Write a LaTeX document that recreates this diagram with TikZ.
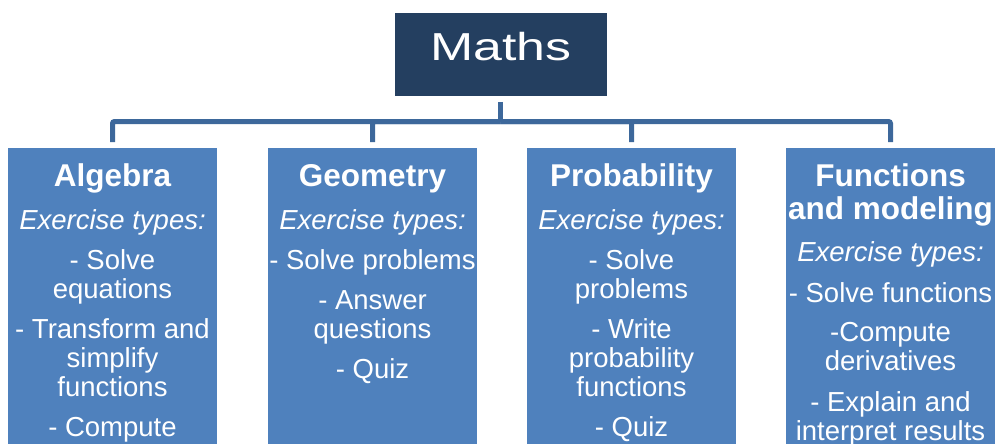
\documentclass[tikz,border=0pt]{standalone}
\usepackage{fontspec}
\setmainfont{Liberation Sans}
\definecolor{mathsnavy}{RGB}{36,63,96}
\definecolor{topicblue}{RGB}{79,129,189}
\definecolor{linkblue}{RGB}{61,104,155}

\begin{document}
\begin{tikzpicture}[x=1pt,y=1pt,
    topic/.style={fill=topicblue,minimum width=209pt,minimum height=320pt,inner sep=0pt,anchor=north},
    topictext/.style={anchor=north,align=center,text=white,inner sep=0pt,yshift=-16.6pt,font=\fontsize{27.5}{29}\selectfont},
    link/.style={draw=linkblue,line width=5pt,rounded corners=2pt}]
  \clip (0,0) rectangle (995,-444);

  \node[fill=mathsnavy,minimum width=212pt,minimum height=83.3pt,inner sep=0pt,text=white,text depth=15pt,font=\fontsize{39}{40}\selectfont]
    (maths) at (500.7,-54.3) {\scalebox{1.33}[1]{Maths}};

  \node[topic] (alg)  at (112.5,-147.3) {};
  \node[topic] (geo)  at (372.5,-147.3) {};
  \node[topic] (prob) at (631.5,-147.3) {};
  \node[topic] (func) at (890.5,-147.3) {};

  % connectors
  \coordinate (hub) at (500.7,-121.5);
  \draw[link,shorten <=5.7pt] (maths.south) -- (hub);
  \foreach \t in {alg,geo,prob,func}
    \draw[link,shorten >=5.3pt] (hub) -| (\t.north);

  % box texts
  \node[topictext] (alg-txt) at (alg.north)
    {{\bfseries\fontsize{31.5}{29}\selectfont Algebra}\\[14pt]
     \textit{Exercise types:}\\[11pt]
     - Solve\\ equations\\[11pt]
     - Transform and\\ simplify\\ functions\\[11pt]
     - Compute};
  \node[topictext] (geo-txt) at (geo.north)
    {{\bfseries\fontsize{31.5}{29}\selectfont Geometry}\\[14pt]
     \textit{Exercise types:}\\[11pt]
     - Solve problems\\[11pt]
     - Answer\\ questions\\[11pt]
     - Quiz};
  \node[topictext] (prob-txt) at (prob.north)
    {{\bfseries\fontsize{31.5}{29}\selectfont Probability}\\[14pt]
     \textit{Exercise types:}\\[11pt]
     - Solve\\ problems\\[11pt]
     - Write\\ probability\\ functions\\[11pt]
     - Quiz};
  \node[topictext] (func-txt) at (func.north)
    {{\bfseries\fontsize{31.5}{29}\selectfont Functions}\\[4pt]
     {\bfseries\fontsize{31.5}{29}\selectfont and modeling}\\[13pt]
     \textit{Exercise types:}\\[12pt]
     - Solve functions\\[10pt]
     -Compute\\ derivatives\\[12pt]
     - Explain and\\ interpret results};
\end{tikzpicture}
\end{document}
